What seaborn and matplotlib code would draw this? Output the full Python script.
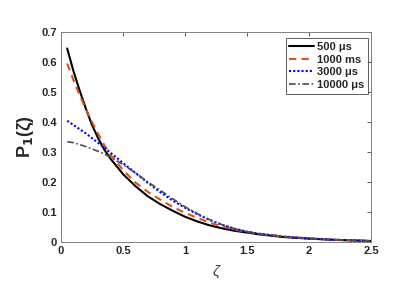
import matplotlib
matplotlib.use("Agg")
import matplotlib.pyplot as plt
import numpy as np
import pandas as pd
import seaborn as sns

zeta_500 = [0.05, 0.1, 0.15, 0.2, 0.25, 0.3, 0.35, 0.4, 0.5, 0.6, 0.7, 0.8, 0.9,
            1.0, 1.1, 1.2, 1.3, 1.4, 1.5, 1.6, 1.8, 2.0, 2.2, 2.5]
p_500 = [0.645, 0.57, 0.505, 0.445, 0.39, 0.345, 0.307, 0.277, 0.226, 0.186,
         0.152, 0.126, 0.104, 0.084, 0.068, 0.055, 0.045, 0.037, 0.031, 0.025,
         0.016, 0.011, 0.007, 0.003]

zeta_1000 = [0.05, 0.1, 0.15, 0.2, 0.25, 0.3, 0.35, 0.4, 0.5, 0.6, 0.7, 0.8, 0.9,
             1.0, 1.1, 1.2, 1.3, 1.4, 1.5, 1.6, 1.8, 2.0, 2.2, 2.5]
p_1000 = [0.595, 0.54, 0.49, 0.443, 0.40, 0.36, 0.322, 0.29, 0.24, 0.198,
          0.167, 0.141, 0.117, 0.097, 0.08, 0.064, 0.051, 0.041, 0.033, 0.027,
          0.018, 0.012, 0.007, 0.003]

zeta_3000 = [0.05, 0.1, 0.2, 0.3, 0.4, 0.5, 0.6, 0.7, 0.8, 0.9, 1.0, 1.1, 1.2,
             1.3, 1.4, 1.5, 1.6, 1.8, 2.0, 2.2, 2.5]
p_3000 = [0.404, 0.39, 0.362, 0.33, 0.297, 0.263, 0.23, 0.197, 0.166, 0.138,
          0.114, 0.092, 0.073, 0.057, 0.044, 0.034, 0.027, 0.017, 0.011, 0.007,
          0.003]

zeta_10000 = [0.05, 0.1, 0.2, 0.3, 0.4, 0.5, 0.6, 0.7, 0.8, 0.9, 1.0, 1.1, 1.2,
              1.3, 1.4, 1.5, 1.6, 1.8, 2.0, 2.2, 2.5]
p_10000 = [0.334, 0.331, 0.318, 0.302, 0.283, 0.258, 0.23, 0.2, 0.172, 0.144,
           0.117, 0.094, 0.074, 0.057, 0.044, 0.034, 0.027, 0.017, 0.011, 0.007,
           0.003]

labels = ["500 μs", "1000 ms", "3000 μs", "10000 μs"]

sns.set_style("white")
plt.rcParams["font.family"] = ["Liberation Sans", "DejaVu Sans"]

fig = plt.figure(figsize=(4.15, 2.99), dpi=100)
ax = fig.add_axes([0.147, 0.191, 0.747, 0.702])

sns.lineplot(x=zeta_500, y=p_500, ax=ax, color="black", lw=1.5,
             label=labels[0], sort=False)
sns.lineplot(x=zeta_1000, y=p_1000, ax=ax, color="#D95319", lw=1.5,
             linestyle=(0, (3.5, 2.5)), label=labels[1], sort=False)
sns.lineplot(x=zeta_3000, y=p_3000, ax=ax, color="#0000FF", lw=1.5,
             linestyle=(0, (1, 1)), label=labels[2], sort=False)
sns.lineplot(x=zeta_10000, y=p_10000, ax=ax, color="#4d4d4d", lw=1.2,
             linestyle=(0, (4, 1.5, 1, 1.5)), label=labels[3], sort=False)

ax.set_xlim(0, 2.5)
ax.set_ylim(0, 0.7)
ax.set_xticks([0, 0.5, 1, 1.5, 2, 2.5])
ax.set_xticklabels(["0", "0.5", "1", "1.5", "2", "2.5"])
ax.set_yticks(np.arange(0, 0.71, 0.1))
ax.set_yticklabels(["0", "0.1", "0.2", "0.3", "0.4", "0.5", "0.6", "0.7"])
ax.tick_params(direction="in", length=3, width=0.6, colors="#404040",
               labelsize=8, top=True, right=True, pad=3)
for t in ax.get_xticklabels() + ax.get_yticklabels():
    t.set_fontweight("bold")
    t.set_color("#262626")
for s in ax.spines.values():
    s.set_color("#808080")
    s.set_linewidth(0.7)

ax.set_xlabel("ζ", fontsize=11, color="#404040", style="italic", labelpad=6)
ax.set_ylabel("P$_\\mathbf{1}$(ζ)", fontsize=13, fontweight="bold",
              color="#262626", labelpad=4)

leg = ax.legend(loc="upper right", bbox_to_anchor=(0.997, 0.98),
                prop={"weight": "bold", "size": 8}, frameon=True,
                fancybox=False, edgecolor="#333333", handlelength=2.2,
                handletextpad=0.25, borderpad=0.35, labelspacing=0.22,
                borderaxespad=0.2)
leg.get_frame().set_linewidth(0.7)

fig.savefig("out.png", dpi=100)
